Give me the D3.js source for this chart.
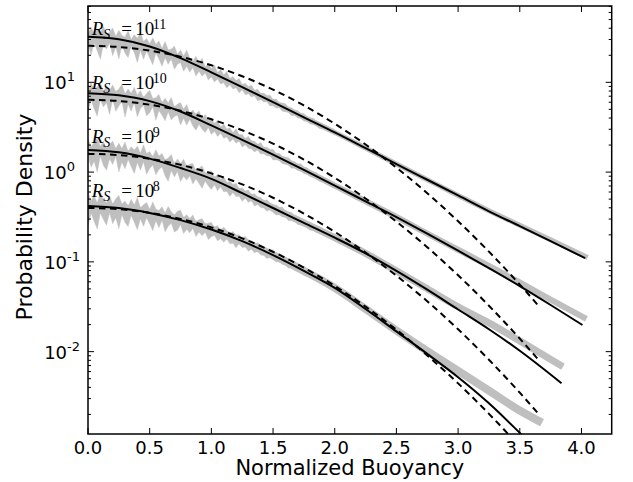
<!DOCTYPE html>
<html><head><meta charset="utf-8">
<script src="https://cdnjs.cloudflare.com/ajax/libs/d3/7.8.5/d3.min.js"></script>
<style>body{margin:0;background:#fff} svg{display:block}</style>
</head><body><svg id="c" width="633" height="482"></svg>
<script>
// ---------------- data ----------------
const labelExp = ["11", "10", "9", "8"];
const labelY = [34.0, 8.5, 2.13, 0.532];

// fitted PDFs (solid)
const fitX11 = [0,0.25,0.5,0.75,1,1.25,1.5,1.75,2,2.25,2.5,2.75,3,3.25,3.5,3.75,4.03];
const fit11  = [32.2,30.2,25.1,18.6,12.9,8.85,6.03,4.07,2.77,1.85,1.23,0.822,0.550,0.366,0.250,0.170,0.110];
const fitX10 = [0,0.25,0.5,0.75,1,1.25,1.5,1.75,2,2.25,2.5,2.75,3,3.25,3.5,3.75,4.008];
const fit10  = [7.55,7.16,6.17,4.73,3.31,2.29,1.567,1.059,0.708,0.473,0.316,0.2065,0.1334,0.0851,0.0537,0.0331,0.0198];
const fitX9  = [0,0.25,0.5,0.75,1,1.25,1.5,1.75,2,2.25,2.5,2.75,3,3.25,3.5,3.838];
const fit9   = [1.762,1.660,1.413,1.109,0.841,0.582,0.398,0.272,0.186,0.1245,0.0794,0.0490,0.0295,0.01778,0.01023,0.00445];
const fitX8  = [0,0.25,0.5,0.75,1,1.25,1.5,1.75,2,2.25,2.5,2.75,3,3.25,3.5,3.6];
const fit8   = [0.420,0.398,0.351,0.292,0.229,0.170,0.119,0.0794,0.0513,0.0299,0.0168,0.00944,0.00519,0.00266,0.001245,0.000912];

// measured PDFs (grey, smooth part)
const grayX11 = [0,0.25,0.5,0.75,1,1.25,1.5,1.75,2,2.25,2.5,2.75,3,3.25,3.5,3.75,4.05];
const gray11  = [32.2,30.2,25.1,18.6,12.9,8.85,6.03,4.07,2.77,1.85,1.23,0.822,0.550,0.371,0.256,0.176,0.112];
const grayX10 = [0,0.25,0.5,0.75,1,1.25,1.5,1.75,2,2.25,2.5,2.75,3,3.25,3.5,3.75,4.04];
const gray10  = [7.55,7.16,6.17,4.73,3.31,2.29,1.567,1.059,0.708,0.473,0.316,0.2065,0.1365,0.0902,0.0589,0.0380,0.0232];
const grayX9  = [0,0.25,0.5,0.75,1,1.25,1.5,1.75,2,2.25,2.5,2.75,3,3.25,3.5,3.85];
const gray9   = [1.762,1.660,1.413,1.109,0.841,0.582,0.398,0.272,0.186,0.1245,0.0794,0.0501,0.0316,0.0209,0.01318,0.00681];
const grayX8  = [0,0.25,0.5,0.75,1,1.25,1.5,1.75,2,2.25,2.5,2.75,3,3.25,3.5,3.68];
const gray8   = [0.420,0.398,0.351,0.292,0.229,0.170,0.119,0.0794,0.0513,0.0299,0.01718,0.01012,0.00610,0.00367,0.002213,0.001618];

// measured PDFs scatter (decades above / below the fit), x = 0..2 step 0.025
const up11 = [0.04,0.11,0.03,0.09,0.05,0.13,0.04,0.07,0.12,0.03,0.10,0.05,0.04,0.12,0.03,0.09,0.06,0.13,0.04,0.08,0.03,0.11,0.05,0.10,0.03,0.12,0.04,0.06,0.11,0.03,0.09,0.04,0.12,0.05,0.03,0.10,0.04,0.11,0.03,0.08,0.04,
              0.10,0.03,0.08,0.04,0.09,0.03,0.07,0.04,0.08,0.03,0.06,0.04,0.07,0.03,0.06,0.03,0.05,0.04,0.06,0.03,0.05,0.03,0.04,0.05,0.03,0.04,0.03,0.04,0.03,0.04,0.03,0.03,0.04,0.03,0.03,0.03,0.03,0.03,0.03,0.03];
const dn11 = [0.08,0.20,0.06,0.15,0.24,0.07,0.12,0.05,0.19,0.09,0.22,0.06,0.14,0.18,0.05,0.11,0.21,0.07,0.16,0.06,0.13,0.19,0.05,0.10,0.17,0.06,0.12,0.05,0.15,0.08,0.05,0.13,0.06,0.11,0.04,0.12,0.05,0.09,0.04,0.10,0.05,
              0.09,0.04,0.08,0.05,0.09,0.04,0.07,0.04,0.08,0.03,0.07,0.04,0.06,0.03,0.07,0.04,0.05,0.03,0.06,0.04,0.05,0.03,0.05,0.04,0.03,0.05,0.03,0.04,0.03,0.04,0.03,0.04,0.03,0.03,0.04,0.03,0.03,0.03,0.03,0.03];
const up10 = [0.05,0.12,0.04,0.08,0.13,0.03,0.10,0.05,0.11,0.04,0.07,0.13,0.03,0.09,0.05,0.12,0.04,0.10,0.03,0.08,0.12,0.04,0.06,0.11,0.03,0.09,0.05,0.12,0.03,0.07,0.10,0.04,0.11,0.03,0.08,0.05,0.10,0.03,0.09,0.04,0.07,
              0.04,0.09,0.03,0.08,0.04,0.07,0.03,0.09,0.04,0.06,0.03,0.07,0.04,0.05,0.03,0.07,0.03,0.05,0.04,0.06,0.03,0.05,0.03,0.04,0.05,0.03,0.04,0.03,0.05,0.03,0.04,0.03,0.03,0.04,0.03,0.03,0.03,0.03,0.03,0.03];
const dn10 = [0.21,0.07,0.17,0.25,0.06,0.14,0.09,0.22,0.05,0.18,0.12,0.06,0.23,0.08,0.15,0.05,0.20,0.10,0.06,0.17,0.13,0.05,0.19,0.07,0.11,0.16,0.05,0.13,0.08,0.05,0.15,0.06,0.12,0.04,0.10,0.13,0.05,0.09,0.11,0.04,0.10,
              0.05,0.09,0.04,0.08,0.05,0.09,0.04,0.07,0.03,0.08,0.04,0.06,0.05,0.07,0.03,0.06,0.04,0.05,0.03,0.06,0.04,0.03,0.05,0.04,0.03,0.05,0.03,0.04,0.03,0.04,0.03,0.04,0.03,0.03,0.04,0.03,0.03,0.03,0.03,0.03];
const up9  = [0.13,0.04,0.09,0.14,0.05,0.11,0.03,0.08,0.12,0.04,0.10,0.05,0.13,0.03,0.09,0.06,0.11,0.04,0.14,0.05,0.08,0.03,0.12,0.06,0.10,0.04,0.07,0.12,0.03,0.09,0.05,0.11,0.04,0.08,0.10,0.03,0.07,0.11,0.04,0.06,0.09,
              0.03,0.08,0.04,0.09,0.03,0.07,0.05,0.08,0.03,0.06,0.04,0.07,0.03,0.06,0.04,0.05,0.03,0.06,0.04,0.03,0.05,0.04,0.06,0.03,0.04,0.05,0.03,0.04,0.03,0.04,0.03,0.04,0.03,0.03,0.04,0.03,0.03,0.03,0.03,0.03];
const dn9  = [0.07,0.19,0.12,0.24,0.06,0.16,0.21,0.08,0.14,0.05,0.22,0.10,0.17,0.06,0.13,0.20,0.07,0.15,0.05,0.18,0.11,0.06,0.16,0.09,0.05,0.14,0.19,0.06,0.12,0.05,0.15,0.08,0.11,0.05,0.13,0.06,0.10,0.14,0.05,0.09,0.12,
              0.05,0.10,0.04,0.08,0.06,0.10,0.04,0.07,0.05,0.09,0.04,0.07,0.03,0.08,0.04,0.06,0.05,0.07,0.03,0.05,0.06,0.04,0.05,0.03,0.06,0.04,0.03,0.05,0.04,0.03,0.04,0.05,0.03,0.04,0.03,0.03,0.04,0.03,0.03,0.03];
const up8  = [0.15,0.06,0.12,0.04,0.16,0.08,0.05,0.13,0.04,0.10,0.14,0.05,0.09,0.04,0.12,0.06,0.15,0.04,0.08,0.11,0.04,0.13,0.06,0.05,0.10,0.04,0.12,0.07,0.04,0.09,0.11,0.04,0.08,0.05,0.10,0.03,0.07,0.09,0.04,0.06,0.08,
              0.04,0.07,0.03,0.08,0.05,0.03,0.07,0.04,0.06,0.03,0.07,0.04,0.05,0.03,0.06,0.04,0.05,0.03,0.04,0.06,0.03,0.04,0.05,0.03,0.04,0.03,0.05,0.03,0.04,0.03,0.04,0.03,0.03,0.04,0.03,0.03,0.03,0.03,0.03,0.03];
const dn8  = [0.22,0.08,0.17,0.25,0.07,0.14,0.20,0.06,0.18,0.11,0.23,0.07,0.15,0.19,0.06,0.13,0.21,0.08,0.16,0.06,0.12,0.19,0.07,0.14,0.05,0.17,0.10,0.06,0.15,0.12,0.05,0.14,0.08,0.11,0.05,0.13,0.07,0.10,0.05,0.12,0.08,
              0.05,0.10,0.06,0.09,0.04,0.08,0.06,0.10,0.04,0.07,0.05,0.08,0.04,0.07,0.03,0.06,0.05,0.07,0.04,0.05,0.06,0.03,0.05,0.04,0.06,0.03,0.05,0.04,0.03,0.05,0.04,0.03,0.04,0.03,0.04,0.03,0.03,0.03,0.03,0.03];
const noiseStep = 0.025;

// Gaussian reference (dashed)
const dashX  = [0,0.25,0.5,0.75,1,1.25,1.5,1.75,2,2.25,2.5,2.75,3,3.25,3.5,3.65];
const dash11 = [25.53,24.75,22.53,19.27,15.49,11.69,8.289,5.522,3.455,2.031,1.122,0.5818,0.2836,0.1299,0.05585,0.03267];
const dash10 = [6.383,6.187,5.633,4.818,3.872,2.922,2.072,1.380,0.864,0.508,0.2805,0.1454,0.0709,0.03246,0.01396,0.00817];
const dash9  = [1.596,1.547,1.408,1.205,0.968,0.731,0.518,0.345,0.216,0.1270,0.0701,0.0364,0.01773,0.00812,0.00349,0.00204];
const dash8  = [0.3989,0.3867,0.3521,0.3011,0.2420,0.1827,0.1295,0.0863,0.0540,0.03174,0.01753,0.00909,0.004432,0.002029,0.000873,0.000510];

const xTicks = [0,0.5,1,1.5,2,2.5,3,3.5,4];
const yTickExp = [-2,-1,0,1];

// ---------------- styles ----------------
const grayWidths = [5,6,7,8];
const GRAY = "#bfbfbf";

// ---------------- build ----------------
const series = [
  {fx:fitX11, f:fit11, gx:grayX11, g:gray11, up:up11, dn:dn11, d:dash11},
  {fx:fitX10, f:fit10, gx:grayX10, g:gray10, up:up10, dn:dn10, d:dash10},
  {fx:fitX9,  f:fit9,  gx:grayX9,  g:gray9,  up:up9,  dn:dn9,  d:dash9},
  {fx:fitX8,  f:fit8,  gx:grayX8,  g:gray8,  up:up8,  dn:dn8,  d:dash8}
];

const W = 633, H = 482;
const m = {l:88, r:21.3, t:6, b:48};
const svg = d3.select("#c");
const x = d3.scaleLinear().domain([0, 4.245]).range([m.l, W - m.r]);
const y = d3.scaleLog().domain([0.00121, 70.8]).range([H - m.b, m.t]);

svg.append("defs").append("clipPath").attr("id","clip")
  .append("rect").attr("x", m.l).attr("y", m.t)
  .attr("width", W - m.l - m.r).attr("height", H - m.t - m.b);

const plot = svg.append("g").attr("clip-path","url(#clip)");

const line = d3.line().x(d => x(d[0])).y(d => y(d[1])).curve(d3.curveMonotoneX);
const area = d3.area().x(d => x(d.x)).y0(d => y(d.lo)).y1(d => y(d.hi));

// grey measured data
series.forEach((s, k) => {
  const fl = d3.scaleLinear().domain(s.fx).range(s.f.map(Math.log10));
  const n = Math.min(s.up.length, s.dn.length);
  const band = d3.range(n).map(i => {
    const xv = i * noiseStep;
    return {x: xv, hi: Math.pow(10, fl(xv) + s.up[i]), lo: Math.pow(10, fl(xv) - s.dn[i])};
  });
  plot.append("path").attr("d", area(band)).attr("fill", GRAY).attr("stroke", GRAY).attr("stroke-width", 0.4);
  plot.append("path").attr("d", line(s.gx.map((v, i) => [v, s.g[i]])))
    .attr("fill","none").attr("stroke", GRAY).attr("stroke-width", grayWidths[k]);
});
// solid fits
series.forEach(s => {
  plot.append("path").attr("d", line(s.fx.map((v, i) => [v, s.f[i]])))
    .attr("fill","none").attr("stroke","#000").attr("stroke-width", 2);
});
// dashed gaussians
series.forEach(s => {
  plot.append("path").attr("d", line(dashX.map((v, i) => [v, s.d[i]])))
    .attr("fill","none").attr("stroke","#000").attr("stroke-width", 2)
    .attr("stroke-dasharray","6.5,4.5");
});

// labels  R_S = 10^n
series.forEach((s, k) => {
  const L = x(0.03), B = y(labelY[k]);
  const t = svg.append("text").attr("font-family","'Liberation Serif', serif")
    .attr("font-size",19).attr("fill","#000");
  t.append("tspan").attr("x", L).attr("y", B).attr("font-style","italic").text("R");
  t.append("tspan").attr("x", L + 11.5).attr("y", B + 4.5).attr("font-style","italic").attr("font-size",14).text("S");
  t.append("tspan").attr("x", L + 29.5).attr("y", B).text("=");
  t.append("tspan").attr("x", L + 43.5).attr("y", B).text("10");
  t.append("tspan").attr("x", L + 61).attr("y", B - 6).attr("font-size",14).text(labelExp[k]);
});

// frame
svg.append("rect").attr("x", m.l).attr("y", m.t)
  .attr("width", W - m.l - m.r).attr("height", H - m.t - m.b)
  .attr("fill","none").attr("stroke","#000").attr("stroke-width",1.5);

const ax = svg.append("g").attr("stroke","#000").attr("stroke-width",1);
const x0 = m.l, x1 = W - m.r, y0 = H - m.b, y1 = m.t;
xTicks.forEach(v => {
  ax.append("line").attr("x1",x(v)).attr("x2",x(v)).attr("y1",y0).attr("y2",y0-6);
  ax.append("line").attr("x1",x(v)).attr("x2",x(v)).attr("y1",y1).attr("y2",y1+6);
});
y.ticks().forEach(v => {
  const lg = Math.log10(v);
  const major = Math.abs(lg - Math.round(lg)) < 1e-9;
  const len = major ? 6 : 3;
  ax.append("line").attr("x1",x0).attr("x2",x0+len).attr("y1",y(v)).attr("y2",y(v));
  ax.append("line").attr("x1",x1).attr("x2",x1-len).attr("y1",y(v)).attr("y2",y(v));
});

const font = "'DejaVu Sans', sans-serif";
svg.append("g").selectAll("text").data(xTicks).join("text")
  .attr("x", d => x(d)).attr("y", y0 + 20).attr("text-anchor","middle")
  .attr("font-family", font).attr("font-size", 18).text(d => d3.format(".1f")(d));

yTickExp.forEach(e => {
  const t = svg.append("text").attr("x", e < 0 ? 80 : 75).attr("y", y(Math.pow(10, e)) + 7)
    .attr("text-anchor","end").attr("font-family", font).attr("font-size", 18);
  t.append("tspan").text("10");
  t.append("tspan").attr("font-size", 13).attr("dy", -8).text(String(e));
});

svg.append("text").attr("x", (x0 + x1) / 2).attr("y", 475).attr("text-anchor","middle")
  .attr("font-family", font).attr("font-size", 21).text("Normalized Buoyancy");
svg.append("text").attr("transform", "translate(31.5,217) rotate(-90)")
  .attr("text-anchor","middle").attr("font-family", font).attr("font-size", 22).text("Probability Density");
</script></body></html>
